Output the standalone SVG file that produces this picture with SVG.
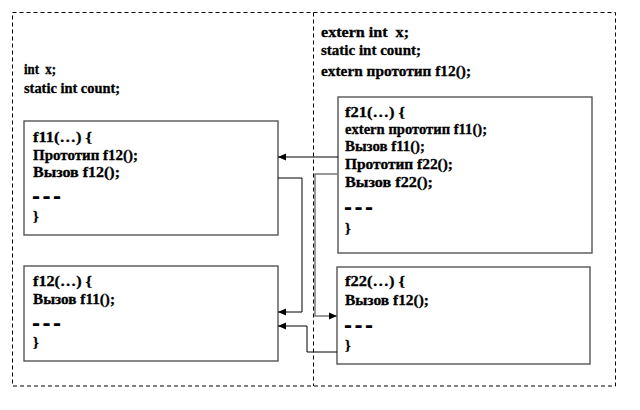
<svg xmlns="http://www.w3.org/2000/svg" width="640" height="410" viewBox="0 0 640 410">
<defs>
<style>
.t{font-family:"Liberation Serif","Times New Roman",serif;font-weight:bold;font-size:14.5px;fill:#000;stroke:#000;stroke-width:0.3;white-space:pre}
.d{font-family:"Liberation Serif","Times New Roman",serif;font-weight:bold;font-size:16px;fill:#000;stroke:#000;stroke-width:1.3}
.box{fill:#fff;stroke:#555;stroke-width:1.4}
.dash{fill:none;stroke:#000;stroke-width:1;stroke-dasharray:4 3}
.c{fill:none;stroke:#000;stroke-width:1}
.g{fill:none;stroke:#777;stroke-width:1.5}
</style>
<marker id="ah" viewBox="0 0 8 8" refX="8" refY="4" markerWidth="8" markerHeight="8" markerUnits="userSpaceOnUse" orient="auto">
<path d="M0,0.5 L8,4 L0,7.5 Z" fill="#000"/>
</marker>
</defs>
<rect width="640" height="410" fill="#fff"/>
<g id="modules">
<rect class="dash" x="12.5" y="12.5" width="603" height="373.5"/>
<line class="dash" x1="313.5" y1="12.5" x2="313.5" y2="386"/>
</g>
<g id="module1-globals">
<text class="t" x="24" y="74" xml:space="preserve" textLength="32" lengthAdjust="spacingAndGlyphs">int  x;</text>
<text class="t" x="24" y="93" textLength="96" lengthAdjust="spacingAndGlyphs">static int count;</text>
</g>
<g id="module2-globals">
<text class="t" x="321" y="37" xml:space="preserve" textLength="88" lengthAdjust="spacingAndGlyphs">extern int  x;</text>
<text class="t" x="321" y="55" textLength="100" lengthAdjust="spacingAndGlyphs">static int count;</text>
<text class="t" x="321" y="76" textLength="150" lengthAdjust="spacingAndGlyphs">extern прототип f12();</text>
</g>
<g id="f11">
<rect class="box" x="24" y="121" width="254" height="114"/>
<text class="t" x="33" y="142" textLength="59" lengthAdjust="spacingAndGlyphs">f11(…) {</text>
<text class="t" x="33" y="160" textLength="105" lengthAdjust="spacingAndGlyphs">Прототип f12();</text>
<text class="t" x="33" y="177" textLength="87" lengthAdjust="spacingAndGlyphs">Вызов f12();</text>
<text class="d" x="33" y="202" textLength="27" lengthAdjust="spacingAndGlyphs">- - -</text>
<text class="t" x="33" y="221">}</text>
</g>
<g id="f12">
<rect class="box" x="24" y="266" width="254" height="95"/>
<text class="t" x="33" y="286" textLength="59" lengthAdjust="spacingAndGlyphs">f12(…) {</text>
<text class="t" x="33" y="304" textLength="82" lengthAdjust="spacingAndGlyphs">Вызов f11();</text>
<text class="d" x="33" y="329" textLength="27" lengthAdjust="spacingAndGlyphs">- - -</text>
<text class="t" x="33" y="347">}</text>
</g>
<g id="f21">
<rect class="box" x="338" y="97" width="254" height="156"/>
<text class="t" x="345" y="117" textLength="60" lengthAdjust="spacingAndGlyphs">f21(…) {</text>
<text class="t" x="345" y="134" textLength="142" lengthAdjust="spacingAndGlyphs">extern прототип f11();</text>
<text class="t" x="345" y="151" textLength="80" lengthAdjust="spacingAndGlyphs">Вызов f11();</text>
<text class="t" x="345" y="169" textLength="108" lengthAdjust="spacingAndGlyphs">Прототип f22();</text>
<text class="t" x="345" y="187" textLength="88" lengthAdjust="spacingAndGlyphs">Вызов f22();</text>
<text class="d" x="345" y="213" textLength="27" lengthAdjust="spacingAndGlyphs">- - -</text>
<text class="t" x="345" y="233">}</text>
</g>
<g id="f22">
<rect class="box" x="337" y="267" width="253" height="97"/>
<text class="t" x="345" y="286" textLength="60" lengthAdjust="spacingAndGlyphs">f22(…) {</text>
<text class="t" x="345" y="305" textLength="84" lengthAdjust="spacingAndGlyphs">Вызов f12();</text>
<text class="d" x="345" y="331" textLength="27" lengthAdjust="spacingAndGlyphs">- - -</text>
<text class="t" x="345" y="350">}</text>
</g>
<g id="connectors">
<path class="c" d="M338,157 H278" marker-end="url(#ah)"/>
<path class="c" d="M278,178 H302 V312 H278" marker-end="url(#ah)"/>
<path class="g" d="M338,174 H315 V316 H337" marker-end="url(#ah)"/>
<path class="c" d="M337,352 H307 V326 H278" marker-end="url(#ah)"/>
</g>
</svg>
